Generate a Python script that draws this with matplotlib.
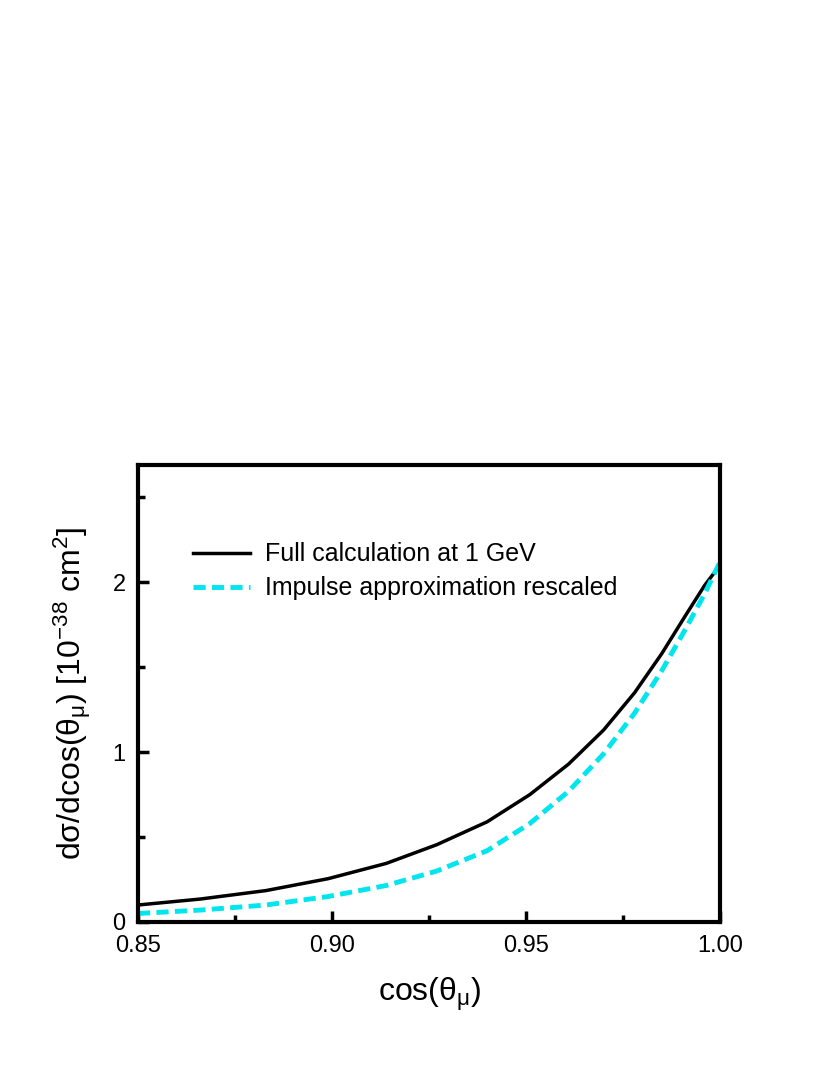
import matplotlib
matplotlib.use("Agg")
import matplotlib.pyplot as plt

plt.rcParams['font.family'] = ['Liberation Sans', 'DejaVu Sans']
plt.rcParams['mathtext.fontset'] = 'custom'
plt.rcParams['mathtext.rm'] = 'Liberation Sans'
plt.rcParams['mathtext.it'] = 'Liberation Sans'

x_full = [0.85, 0.866, 0.883, 0.899, 0.914, 0.927, 0.94, 0.951, 0.961, 0.97, 0.978, 0.985, 0.991, 0.996, 1.0]
y_full = [0.10, 0.135, 0.185, 0.255, 0.345, 0.455, 0.59, 0.75, 0.93, 1.13, 1.35, 1.58, 1.80, 1.98, 2.10]
x_imp = [0.85, 0.866, 0.883, 0.899, 0.914, 0.927, 0.94, 0.951, 0.961, 0.97, 0.978, 0.985, 0.991, 0.996, 1.0]
y_imp = [0.05, 0.07, 0.10, 0.15, 0.215, 0.30, 0.42, 0.58, 0.77, 0.99, 1.23, 1.48, 1.72, 1.93, 2.12]

fig = plt.figure(figsize=(8.3, 10.75), dpi=100)
ax = fig.add_axes([138/830, 1-922/1075, (720-138)/830, (922-465)/1075])
ax.plot(x_full, y_full, color='black', lw=2.5, label='Full calculation at 1 GeV')
ax.plot(x_imp, y_imp, color='#00e5ee', lw=3.5, ls=(0, (2.5, 1.3)), label='Impulse approximation rescaled')
ax.set_xlim(0.85, 1.0)
ax.set_ylim(0, 2.69)
ax.set_xticks([0.85, 0.90, 0.95, 1.00])
ax.set_xticklabels(['0.85', '0.90', '0.95', '1.00'])
ax.set_xticks([0.875, 0.925, 0.975], minor=True)
ax.set_yticks([0, 1, 2])
ax.set_yticks([0.5, 1.5, 2.5], minor=True)
for s in ax.spines.values():
    s.set_linewidth(3)
ax.tick_params(which='both', direction='in', width=2.5, labelsize=17, top=False, right=False)
ax.tick_params(which='major', length=8, pad=9)
ax.tick_params(which='minor', length=5)
ax.set_xlabel(r'cos($\theta_\mu$)', fontsize=23, labelpad=14)
ax.set_ylabel(r'd$\sigma$/dcos($\theta_\mu$) [10$^{-38}$ cm$^2$]', fontsize=23, labelpad=14)
ax.legend(loc='upper left', bbox_to_anchor=(0.055, 0.88), frameon=False, fontsize=18,
          handlelength=2.3, handletextpad=0.6, labelspacing=0.4)
fig.savefig('out.png', dpi=100)
